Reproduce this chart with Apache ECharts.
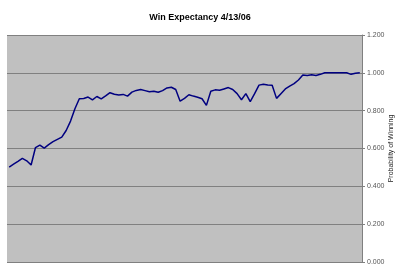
<!DOCTYPE html>
<html><head><meta charset="utf-8">
<script src="https://cdn.jsdelivr.net/npm/echarts@6/dist/echarts.min.js"></script>
<style>html,body{margin:0;padding:0;background:#fff}#c{width:400px;height:274px}</style>
</head><body><div id="c"></div>
<script>
const title = "Win Expectancy 4/13/06";
const yAxisName = "Probability of Winning";
const winProb = [
  0.502,0.517,0.532,0.548,0.535,0.513,0.605,0.618,0.602,0.620,
  0.636,0.648,0.660,0.695,0.745,0.810,0.863,0.864,0.872,0.857,
  0.875,0.862,0.878,0.895,0.887,0.883,0.886,0.877,0.898,0.907,
  0.912,0.906,0.900,0.903,0.897,0.906,0.920,0.924,0.912,0.850,
  0.865,0.884,0.877,0.871,0.863,0.828,0.903,0.910,0.908,0.915,
  0.922,0.912,0.890,0.858,0.890,0.848,0.890,0.935,0.940,0.936,
  0.934,0.865,0.890,0.915,0.930,0.943,0.962,0.988,0.986,0.990,
  0.986,0.992,1.000,1.000,1.000,1.000,1.000,1.000,0.992,0.998,
  1.000
];
const categories = winProb.map((_, i) => String(i + 1));

const chart = echarts.init(document.getElementById('c'), null, {renderer: 'canvas'});
chart.setOption({
  animation: false,
  backgroundColor: '#ffffff',
  title: {
    text: title, left: 'center', top: 8,
    textStyle: {fontFamily: 'Liberation Sans, Arial', fontSize: 9, fontWeight: 'bold', color: '#000'}
  },
  grid: {left: 7, right: 38, top: 35, bottom: 12, show: true, backgroundColor: '#c0c0c0', borderWidth: 0,
         containLabel: false, outerBoundsMode: 'none'},
  xAxis: {
    type: 'category', data: categories, boundaryGap: true,
    axisLine: {show: false}, axisTick: {show: false}, axisLabel: {show: false}, splitLine: {show: false}
  },
  yAxis: {
    type: 'value', position: 'right', min: 0, max: 1.2, interval: 0.2,
    name: yAxisName, nameLocation: 'middle', nameGap: 26, nameRotate: 90, nameMoveOverlap: false,
    nameTextStyle: {fontFamily: 'Liberation Sans, Arial', fontSize: 7, color: '#222'},
    axisLine: {show: true, lineStyle: {color: '#808080', width: 1}},
    axisTick: {show: true, inside: false, length: 3, lineStyle: {color: '#808080'}},
    axisLabel: {formatter: v => v.toFixed(3), fontFamily: 'Liberation Sans, Arial', fontSize: 7, color: '#555', margin: 5},
    splitLine: {show: true, lineStyle: {color: '#808080', width: 1}}
  },
  series: [{
    type: 'line', data: winProb, symbol: 'none', smooth: false,
    lineStyle: {color: '#000080', width: 1.5}
  }]
});
</script></body></html>
